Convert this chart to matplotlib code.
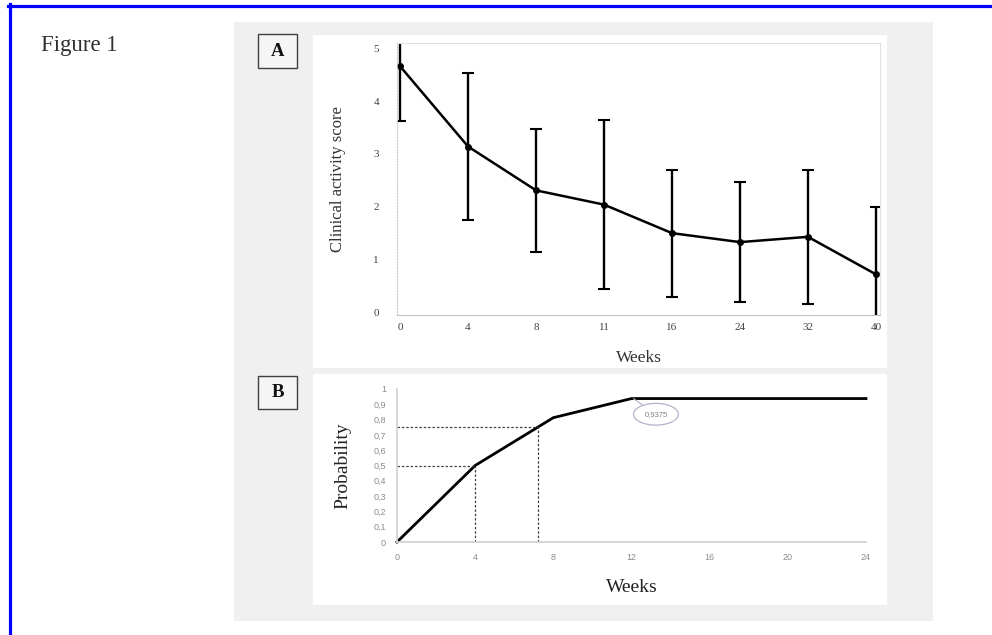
import numpy as np
import matplotlib.pyplot as plt
from matplotlib.patches import Rectangle

# panel A data: clinical activity score (mean +/- sd) per visit
weeks_a = ['0', '4', '8', '11', '16', '24', '32', '40']
cas_mean = [4.66, 3.14, 2.31, 2.04, 1.50, 1.33, 1.43, 0.72]
cas_sd = [1.03, 1.40, 1.16, 1.60, 1.20, 1.14, 1.27, 1.27]

# panel B data: cumulative probability of response
weeks_b = [0, 4, 8, 12, 24]
prob = [0, 0.5, 0.8125, 0.9375, 0.9375]
ref_weeks = [4, 7.2]
ref_probs = [0.5, 0.75]
prob_ticks = [0, 0.1, 0.2, 0.3, 0.4, 0.5, 0.6, 0.7, 0.8, 0.9, 1]
prob_ticklabels = ['0', '0,1', '0,2', '0,3', '0,4', '0,5', '0,6', '0,7', '0,8', '0,9', '1']
xb_ticks = [0, 4, 8, 12, 16, 20, 24]

W, H = 992, 635
fig = plt.figure(figsize=(W / 100, H / 100), dpi=100)
fig.patch.set_facecolor('white')
plt.rcParams['font.family'] = ['Liberation Serif', 'DejaVu Serif']


def rect(x0, y0, x1, y1, z=-2, **kw):
    r = Rectangle((x0 / W, 1 - y1 / H), (x1 - x0) / W, (y1 - y0) / H,
                  transform=fig.transFigure, zorder=z, **kw)
    fig.add_artist(r)


def axes_px(x0, y0, x1, y1):
    return fig.add_axes([x0 / W, 1 - y1 / H, (x1 - x0) / W, (y1 - y0) / H])


# blue page border
fig.add_artist(plt.Line2D([8 / W, 1], [1 - 5.5 / H, 1 - 5.5 / H], color='#0000ff', lw=2.3,
                          transform=fig.transFigure))
fig.add_artist(plt.Line2D([9.5 / W, 9.5 / W], [0, 1 - 4 / H], color='#0000ff', lw=2.3,
                          transform=fig.transFigure))
fig.text(41 / W, 1 - 46 / H, 'Figure 1', fontsize=16.5, color='#303030', va='center')

# gray panel and white plot areas
rect(234, 22, 933, 621, facecolor='#f0f0f0', edgecolor='none', z=-3)
rect(313, 35, 887, 368, facecolor='white', edgecolor='none')
rect(313, 374, 887, 605, facecolor='white', edgecolor='none')

# letter boxes
for lab, y0, y1 in [('A', 34, 68), ('B', 376, 409)]:
    rect(258, y0, 297, y1, facecolor='#f5f5f5', edgecolor='#404040', lw=1.0)
    fig.text(277.5 / W, 1 - (y0 + y1) / 2 / H, lab, fontsize=13.5, fontweight='bold',
             ha='center', va='center', color='#111111')

# ---- panel A
ax = axes_px(397, 43, 880, 315)
ax.set_facecolor('none')
x = np.arange(len(weeks_a))
ax.errorbar(x, cas_mean, yerr=cas_sd, color='black', lw=1.8, elinewidth=1.7,
            capsize=4, capthick=1.5, marker='o', ms=4)
ax.set_xlim(-0.045, 7.06)
ax.set_ylim(-0.05, 5.1)
ax.set_xticks(x)
ax.set_xticklabels(weeks_a)
ax.set_yticks([0, 1, 2, 3, 4, 5])
ax.tick_params(length=0, labelsize=8, labelcolor='#404040')
ax.tick_params(axis='y', pad=13)
ax.tick_params(axis='x', pad=6)
for s in ['top', 'right']:
    ax.spines[s].set_color('#e0e0e0')
ax.spines['left'].set_color('#c8c8c8')
ax.spines['left'].set_linestyle(':')
ax.spines['bottom'].set_color('#c0c0c0')
ax.set_xlabel('Weeks', fontsize=12.5, color='#333333', labelpad=13)
ax.set_ylabel('Clinical activity score', fontsize=12, color='#333333', labelpad=20)

# ---- panel B
bx = axes_px(397, 389, 866, 542)
bx.set_facecolor('none')
bx.plot(weeks_b, prob, color='black', lw=2, clip_on=False, solid_joinstyle='miter')
for w, p in zip(ref_weeks, ref_probs):
    bx.plot([0, w], [p, p], color='#404040', lw=0.9, ls=(0, (2, 1.5)))
    bx.plot([w, w], [0, p], color='#404040', lw=0.9, ls=(0, (2, 1.5)))
bx.set_xlim(0, 24)
bx.set_ylim(0, 1)
bx.set_xticks(xb_ticks)
bx.set_yticks(prob_ticks)
bx.set_yticklabels(prob_ticklabels)
bx.tick_params(length=0, labelsize=6.5, labelcolor='#8c8c8c')
bx.tick_params(axis='y', pad=8)
bx.tick_params(axis='x', pad=8)
for lab in bx.get_xticklabels() + bx.get_yticklabels():
    lab.set_family(['Liberation Sans', 'DejaVu Sans'])
for s in ['top', 'right']:
    bx.spines[s].set_visible(False)
for s in ['left', 'bottom']:
    bx.spines[s].set_color('#d0d0d0')
    bx.spines[s].set_linewidth(1.2)
bx.set_xlabel('Weeks', fontsize=14, color='#222222', labelpad=12)
bx.set_ylabel('Probability', fontsize=14, color='#222222', labelpad=16)
bx.annotate('0,9375', xy=(12.1, prob[3]), xytext=(13.25, 0.835), fontsize=5.5,
            color='#7f7f7f', ha='center', va='center', family=['Liberation Sans', 'DejaVu Sans'],
            bbox=dict(boxstyle='ellipse,pad=0.55', fc='white', ec='#b0b4cc', lw=0.9),
            arrowprops=dict(arrowstyle='-', color='#b0b4cc', lw=0.8, shrinkA=0, shrinkB=0))

fig.savefig('out.png', dpi=100)
